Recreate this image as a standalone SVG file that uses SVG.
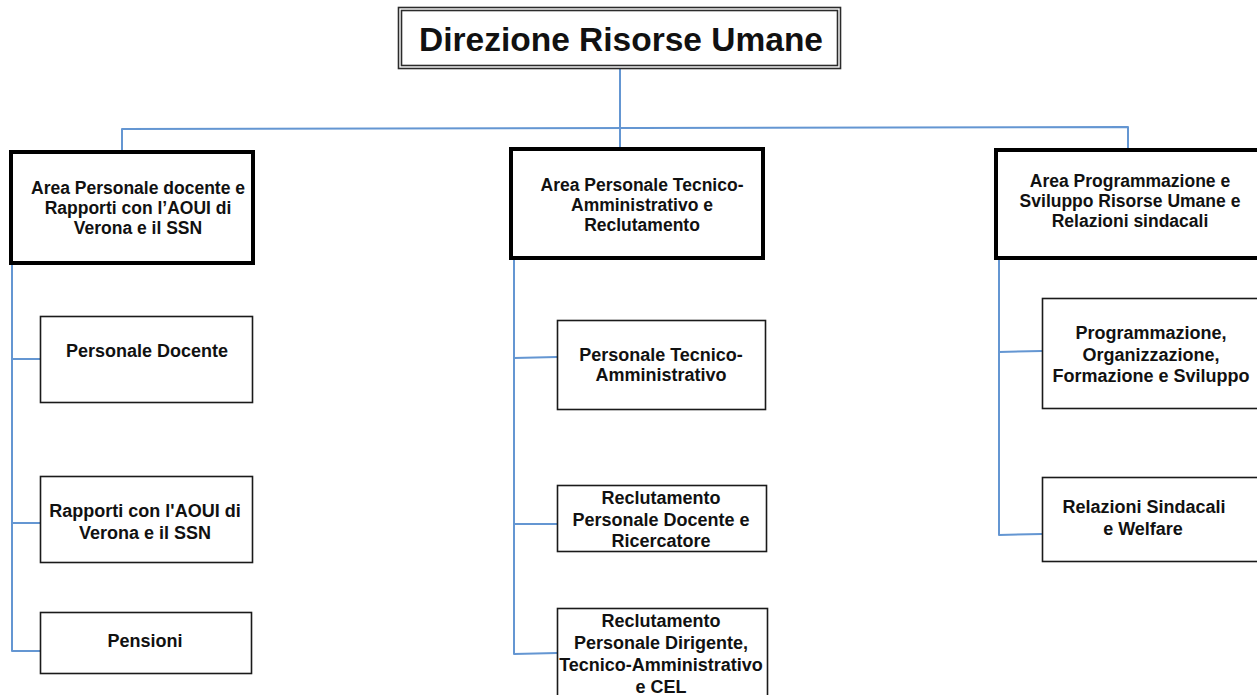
<svg xmlns="http://www.w3.org/2000/svg" width="1257" height="695" viewBox="0 0 1257 695">
  <style>
    .bg { fill: #ffffff; }
    .area { fill: #ffffff; stroke: #000000; stroke-width: 4; }
    .unit { fill: #ffffff; stroke: #1a1a1a; stroke-width: 1.6; }
    .frame { fill: none; stroke: #2b2b2b; stroke-width: 1.6; }
    .link { fill: none; stroke: #6496d2; stroke-width: 2; stroke-linecap: round; stroke-linejoin: round; }
    text { font-family: "Liberation Sans", Arial, sans-serif; font-weight: bold; fill: #111111; text-anchor: middle; }
    .title { font-size: 33.5px; }
    .h { font-size: 17.5px; }
    .s { font-size: 18px; }
  </style>

  <rect class="bg" x="0" y="0" width="1257" height="695"/>

  <!-- connectors -->
  <g id="connectors">
    <path class="link" d="M620 69 V128"/>
    <path class="link" d="M122 151 V129 L1128 127 V149"/>
    <path class="link" d="M620 128 V148"/>
    <!-- left area spine -->
    <path class="link" d="M12 263 V651 H40"/>
    <path class="link" d="M12 359 H40"/>
    <path class="link" d="M12 523 H40"/>
    <!-- middle area spine -->
    <path class="link" d="M514 258 V654 L557 653"/>
    <path class="link" d="M514 358 L557 357"/>
    <path class="link" d="M514 524 H557"/>
    <!-- right area spine -->
    <path class="link" d="M999 258 V535 L1042 534"/>
    <path class="link" d="M999 352 L1042 351"/>
  </g>

  <!-- head office -->
  <g id="direzione">
    <rect class="frame" x="398.5" y="7.5" width="442" height="61"/>
    <rect class="frame" x="401.5" y="10.5" width="436" height="55"/>
    <text class="title" x="621" y="51">Direzione Risorse Umane</text>
  </g>

  <!-- areas -->
  <g id="area-docente">
    <rect class="area" x="11" y="152" width="242" height="111"/>
    <text class="h" x="138" y="194">Area Personale docente e</text>
    <text class="h" x="138" y="214">Rapporti con l’AOUI di</text>
    <text class="h" x="138" y="234">Verona e il SSN</text>
  </g>

  <g id="area-tecnico">
    <rect class="area" x="511" y="149" width="252" height="109"/>
    <text class="h" x="642" y="191">Area Personale Tecnico-</text>
    <text class="h" x="642" y="211">Amministrativo e</text>
    <text class="h" x="642" y="231">Reclutamento</text>
  </g>

  <g id="area-programmazione">
    <rect class="area" x="996" y="150" width="270" height="108"/>
    <text class="h" x="1130" y="187">Area Programmazione e</text>
    <text class="h" x="1130" y="207">Sviluppo Risorse Umane e</text>
    <text class="h" x="1130" y="227">Relazioni sindacali</text>
  </g>

  <!-- units: left -->
  <g id="personale-docente">
    <rect class="unit" x="40.5" y="316.5" width="212" height="86"/>
    <text class="s" x="147" y="357">Personale Docente</text>
  </g>

  <g id="rapporti-aoui">
    <rect class="unit" x="40.5" y="476.5" width="212" height="86"/>
    <text class="s" x="145" y="517">Rapporti con l'AOUI di</text>
    <text class="s" x="145" y="539">Verona e il SSN</text>
  </g>

  <g id="pensioni">
    <rect class="unit" x="40.5" y="612.5" width="211" height="61"/>
    <text class="s" x="145" y="647">Pensioni</text>
  </g>

  <!-- units: middle -->
  <g id="personale-tecnico">
    <rect class="unit" x="557.5" y="320.5" width="208" height="89"/>
    <text class="s" x="661" y="361">Personale Tecnico-</text>
    <text class="s" x="661" y="381">Amministrativo</text>
  </g>

  <g id="reclutamento-docente">
    <rect class="unit" x="557.5" y="485.5" width="209" height="66"/>
    <text class="s" x="661" y="504">Reclutamento</text>
    <text class="s" x="661" y="526">Personale Docente e</text>
    <text class="s" x="661" y="547">Ricercatore</text>
  </g>

  <g id="reclutamento-dirigente">
    <rect class="unit" x="557.5" y="608.5" width="210" height="100"/>
    <text class="s" x="661" y="627">Reclutamento</text>
    <text class="s" x="661" y="649">Personale Dirigente,</text>
    <text class="s" x="661" y="671">Tecnico-Amministrativo</text>
    <text class="s" x="661" y="693">e CEL</text>
  </g>

  <!-- units: right -->
  <g id="programmazione">
    <rect class="unit" x="1042.5" y="298.5" width="222" height="110"/>
    <text class="s" x="1151" y="339">Programmazione,</text>
    <text class="s" x="1151" y="361">Organizzazione,</text>
    <text class="s" x="1151" y="382">Formazione e Sviluppo</text>
  </g>

  <g id="relazioni-sindacali">
    <rect class="unit" x="1042.5" y="477.5" width="222" height="84"/>
    <text class="s" x="1144" y="513">Relazioni Sindacali</text>
    <text class="s" x="1143" y="535">e Welfare</text>
  </g>
</svg>
